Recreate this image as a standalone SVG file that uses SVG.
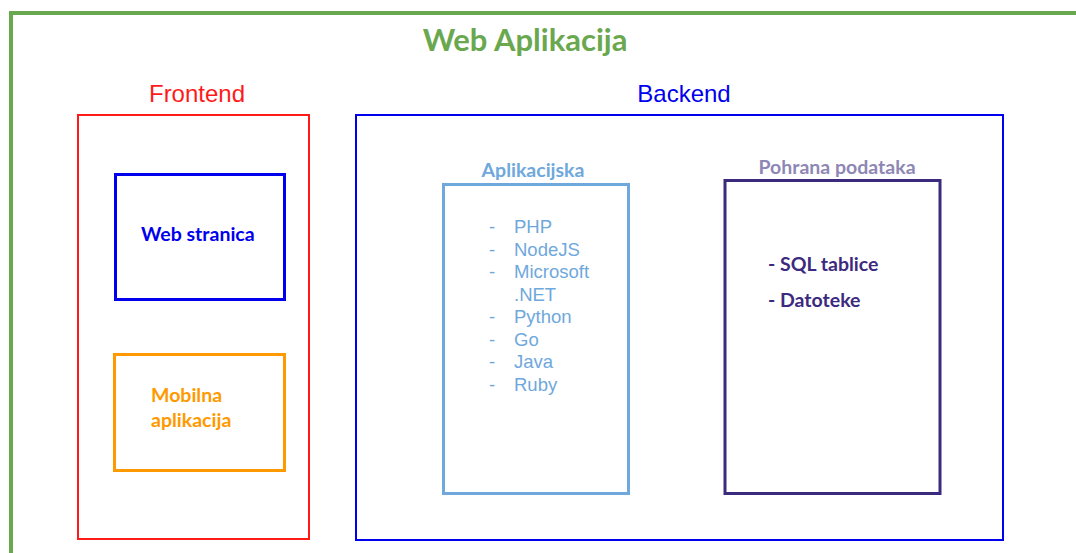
<svg xmlns="http://www.w3.org/2000/svg" width="1076" height="553" viewBox="0 0 1076 553">
<style>
.box{fill:none}
.bold{font-family:Lato,"Open Sans","Liberation Sans",sans-serif;font-weight:bold;font-size:19.5px}
.reg{font-family:"Liberation Sans",Arial,sans-serif}
.list{font-family:"Liberation Sans",Arial,sans-serif;font-size:18.5px;fill:#6fa8dc}
</style>
<rect width="1076" height="553" fill="#ffffff"/>
<g id="web-aplikacija">
<rect class="box" x="11" y="13" width="1080" height="560" stroke="#6aa84f" stroke-width="4"/>
<text class="bold" x="525" y="51" style="font-size:31px" fill="#6aa84f" text-anchor="middle">Web Aplikacija</text>
</g>
<g id="frontend">
<rect class="box" x="78" y="115" width="231" height="424" stroke="#ff1a1a" stroke-width="2"/>
<text class="reg" x="197" y="102" font-size="24" fill="#ff1a1a" text-anchor="middle">Frontend</text>
</g>
<g id="web-stranica">
<rect class="box" x="115.5" y="174.5" width="169" height="125" stroke="#0000ee" stroke-width="3"/>
<text class="bold" x="141" y="241" fill="#0000ee">Web stranica</text>
</g>
<g id="mobilna-aplikacija">
<rect class="box" x="114.5" y="354.5" width="170" height="116" stroke="#ff9900" stroke-width="3"/>
<text class="bold" x="151" y="402" fill="#ff9900">Mobilna</text>
<text class="bold" x="151" y="427" fill="#ff9900">aplikacija</text>
</g>
<g id="backend">
<rect class="box" x="356" y="115" width="647" height="425" stroke="#0000ee" stroke-width="2"/>
<text class="reg" x="684" y="102" font-size="24" fill="#0000ee" text-anchor="middle">Backend</text>
</g>
<g id="aplikacijska">
<rect class="box" x="443.5" y="184.5" width="185" height="309" stroke="#6fa8dc" stroke-width="3"/>
<text class="bold" x="533" y="177" fill="#6fa8dc" text-anchor="middle">Aplikacijska</text>
<g class="list">
<text x="489" y="233">-</text><text x="514" y="233">PHP</text>
<text x="489" y="256">-</text><text x="514" y="256">NodeJS</text>
<text x="489" y="278">-</text><text x="514" y="278">Microsoft</text>
<text x="514" y="301">.NET</text>
<text x="489" y="323">-</text><text x="514" y="323">Python</text>
<text x="489" y="346">-</text><text x="514" y="346">Go</text>
<text x="489" y="368">-</text><text x="514" y="368">Java</text>
<text x="489" y="391">-</text><text x="514" y="391">Ruby</text>
</g>
</g>
<g id="pohrana-podataka">
<rect class="box" x="725" y="180.5" width="215" height="313" stroke="#3c2a7e" stroke-width="3"/>
<text class="bold" x="837" y="174" fill="#8e87b5" text-anchor="middle">Pohrana podataka</text>
<text class="bold" x="768" y="271" fill="#3c2a7e">- SQL tablice</text>
<text class="bold" x="768" y="307" fill="#3c2a7e">- Datoteke</text>
</g>
<g id="connectors"/>
</svg>
